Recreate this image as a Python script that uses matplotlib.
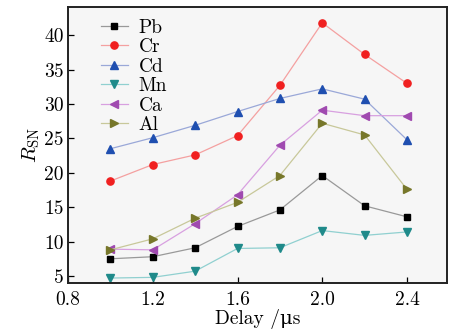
import matplotlib
matplotlib.use("Agg")
import matplotlib.pyplot as plt

delay = [1.0, 1.2, 1.4, 1.6, 1.8, 2.0, 2.2, 2.4]
Pb = [7.5, 7.8, 9.1, 12.2, 14.6, 19.6, 15.2, 13.6]
Cr = [18.8, 21.2, 22.6, 25.4, 32.7, 41.8, 37.2, 33.0]
Cd = [23.5, 25.1, 26.9, 28.9, 30.8, 32.2, 30.7, 24.8]
Mn = [4.7, 4.8, 5.7, 9.0, 9.1, 11.6, 10.9, 11.4]
Ca = [8.9, 8.8, 12.6, 16.8, 24.0, 29.1, 28.3, 28.3]
Al = [8.8, 10.4, 13.4, 15.7, 19.6, 27.2, 25.5, 17.6]
xticks = [0.8, 1.2, 1.6, 2.0, 2.4]
yticks = [5, 10, 15, 20, 25, 30, 35, 40]

plt.rcParams['font.family'] = ['cmr10', 'DejaVu Serif']
plt.rcParams['mathtext.fontset'] = 'cm'
plt.rcParams['axes.formatter.use_mathtext'] = True

fig = plt.figure(figsize=(4.54, 3.32), dpi=100)
ax = fig.add_axes([0.150, 0.148, 0.835, 0.831])
ax.set_facecolor('#f6f6f6')

series = [
    ('Pb', Pb, 's', '#000000', '#999999', 4.5),
    ('Cr', Cr, 'o', '#f02020', '#f4a0a0', 5.2),
    ('Cd', Cd, '^', '#1f4fb0', '#9aa8d8', 5.8),
    ('Mn', Mn, 'v', '#1f8a8a', '#90d0d0', 5.8),
    ('Ca', Ca, '<', '#a04ab0', '#d8a0e0', 5.8),
    ('Al', Al, '>', '#77772a', '#c8c89a', 5.8),
]
for name, vals, m, mc, lc, ms in series:
    ax.plot(delay, vals, color=lc, lw=0.9, marker=m, ms=ms,
            mfc=mc, mec=mc, label=name)

ax.set_xlim(0.8, 2.59)
ax.set_ylim(4, 44.1)
ax.set_xticks(xticks)
ax.set_xticklabels([f'{t:.1f}' for t in xticks])
ax.set_yticks(yticks)
ax.set_yticklabels([str(t) for t in yticks])
ax.tick_params(labelsize=14, direction='in', length=4, width=0.9)
ax.tick_params(axis='x', pad=6)
ax.tick_params(axis='y', pad=3)
for s in ax.spines.values():
    s.set_linewidth(1.4)
    s.set_color('#222222')

ax.set_xlabel('Delay /μs', fontsize=14, labelpad=0)
ax.set_ylabel(r'$R_{\rm SN}$', fontsize=15, labelpad=2)

leg = ax.legend(loc='upper left', frameon=False, fontsize=14,
                handlelength=1.4, handletextpad=0.55, labelspacing=0.08,
                borderaxespad=0.0, bbox_to_anchor=(0.065, 0.985))

fig.savefig('out.png', dpi=100)
